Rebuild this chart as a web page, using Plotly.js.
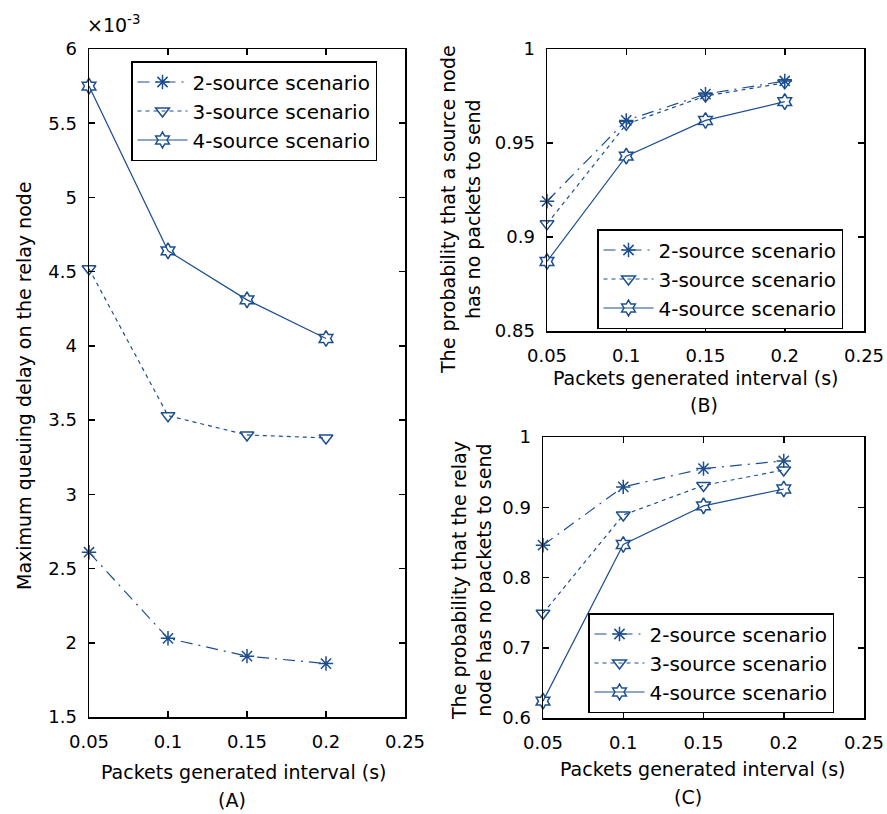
<!DOCTYPE html>
<html><head><meta charset="utf-8">
<script src="https://cdn.plot.ly/plotly-3.0.1.min.js"></script>
<style>html,body{margin:0;padding:0;background:#fff}#chart{width:887px;height:814px}</style>
</head><body><div id="chart"></div>
<script>
// ---- data ----
const intervals = [0.05, 0.1, 0.15, 0.2];
const seriesNames = ['2-source scenario', '3-source scenario', '4-source scenario'];
// Panel A: maximum queuing delay (x 10^-3)
const delay2 = [2.61, 2.03, 1.91, 1.86];
const delay3 = [4.52, 3.53, 3.40, 3.38];
const delay4 = [5.75, 4.64, 4.31, 4.05];
// Panel B: probability source node has no packets
const srcIdle2 = [0.919, 0.962, 0.976, 0.983];
const srcIdle3 = [0.907, 0.960, 0.975, 0.982];
const srcIdle4 = [0.887, 0.943, 0.962, 0.972];
// Panel C: probability relay node has no packets
const relayIdle2 = [0.846, 0.929, 0.955, 0.966];
const relayIdle3 = [0.749, 0.889, 0.931, 0.953];
const relayIdle4 = [0.624, 0.847, 0.902, 0.926];
const xTickVals = [0.05, 0.1, 0.15, 0.2, 0.25];
const xTickText = ['0.05', '0.1', '0.15', '0.2', '0.25'];

// ---- styles ----
const W = 887, H = 814;
const col = '#1d4f8f';
const FONT = 'DejaVu Sans, Arial, sans-serif';
const styles = [
  {dash: '12px,6px,2px,6px', symbol: 'asterisk-open'},
  {dash: '4px,4px', symbol: 'triangle-down-open'},
  {dash: 'solid', symbol: 'hexagram-open'}
];
const px = v => v / W;
const py = v => 1 - v / H;

function mk(ys, i, xa, ya, leg) {
  return {
    x: intervals, y: ys, type: 'scatter', mode: 'lines+markers',
    name: seriesNames[i], xaxis: xa, yaxis: ya, legend: leg,
    legendgroup: leg + '_' + i, cliponaxis: false,
    line: {color: col, width: 1.2, dash: styles[i].dash},
    marker: {symbol: styles[i].symbol, size: 12, color: col, line: {color: col, width: 1.5}}
  };
}
const traces = [
  mk(delay2, 0, 'x', 'y', 'legend'), mk(delay3, 1, 'x', 'y', 'legend'), mk(delay4, 2, 'x', 'y', 'legend'),
  mk(srcIdle2, 0, 'x2', 'y2', 'legend2'), mk(srcIdle3, 1, 'x2', 'y2', 'legend2'), mk(srcIdle4, 2, 'x2', 'y2', 'legend2'),
  mk(relayIdle2, 0, 'x3', 'y3', 'legend3'), mk(relayIdle3, 1, 'x3', 'y3', 'legend3'), mk(relayIdle4, 2, 'x3', 'y3', 'legend3')
];

function xax(l, r, anchor) {
  return {domain: [px(l), px(r)], range: [0.05, 0.25], anchor: anchor,
    tickvals: xTickVals, ticktext: xTickText,
    showline: true, linecolor: '#000', linewidth: 1.5, mirror: 'ticks',
    ticks: 'inside', ticklen: 6, tickcolor: '#000', tickwidth: 1.5,
    showgrid: false, zeroline: false, ticklabelstandoff: 8,
    tickfont: {family: FONT, size: 18, color: '#000'}};
}
function yax(t, b, range, dtick, anchor) {
  return {domain: [py(b), py(t)], range: range, dtick: dtick, tick0: range[0], anchor: anchor,
    showline: true, linecolor: '#000', linewidth: 1.5, mirror: 'ticks',
    ticks: 'inside', ticklen: 6, tickcolor: '#000', tickwidth: 1.5,
    showgrid: false, zeroline: false, ticklabelstandoff: 7,
    tickfont: {family: FONT, size: 18, color: '#000'}};
}
function leg(l, t) {
  return {x: px(l), y: py(t), xanchor: 'left', yanchor: 'top', xref: 'paper', yref: 'paper',
    bgcolor: '#fff', bordercolor: '#000', borderwidth: 1.5, itemwidth: 50,
    entrywidth: 258, entrywidthmode: 'pixels',
    tracegroupgap: 0, traceorder: 'grouped',
    font: {family: FONT, size: 20, color: '#000'}};
}
function ann(text, x, y, opts) {
  return Object.assign({text: text, x: px(x), y: py(y), xref: 'paper', yref: 'paper',
    showarrow: false, xanchor: 'center', yanchor: 'middle',
    font: {family: FONT, size: 19, color: '#000'}}, opts || {});
}

const layout = {
  width: W, height: H, margin: {l: 0, r: 0, t: 0, b: 0},
  paper_bgcolor: '#fff', plot_bgcolor: '#fff',
  xaxis: xax(89, 405, 'y'), yaxis: yax(49, 717, [1.5, 6], 0.5, 'x'),
  xaxis2: xax(547, 864, 'y2'), yaxis2: yax(49, 331, [0.85, 1], 0.05, 'x2'),
  xaxis3: xax(543, 864, 'y3'), yaxis3: yax(437, 718, [0.6, 1], 0.1, 'x3'),
  legend: leg(131, 61), legend2: leg(597, 229), legend3: leg(588, 613),
  annotations: [
    ann('×10<sup>-3</sup>', 114, 24),
    ann('Maximum queuing delay on the relay node', 24, 386, {textangle: -90}),
    ann('Packets generated interval (s)', 244, 772),
    ann('(A)', 232, 800),
    ann('The probability that a source node<br>has no packets to send', 461, 210, {textangle: -90}),
    ann('Packets generated interval (s)', 695, 378),
    ann('(B)', 704, 405),
    ann('The probability that the relay<br>node has no packets to send', 471, 581, {textangle: -90}),
    ann('Packets generated interval (s)', 702, 769),
    ann('(C)', 688, 797)
  ]
};
Plotly.newPlot('chart', traces, layout, {displayModeBar: false, staticPlot: true});
</script>
</body></html>
